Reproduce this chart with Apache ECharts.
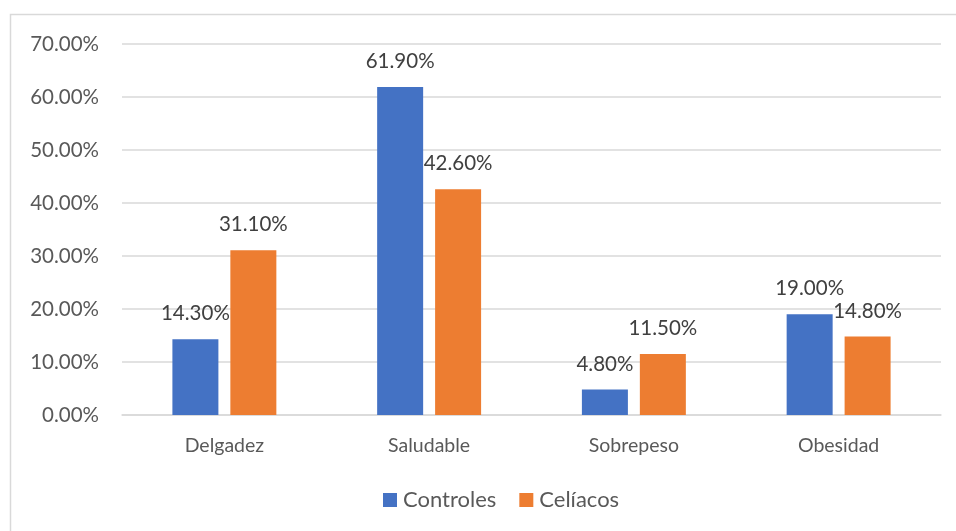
<!DOCTYPE html>
<html>
<head>
<meta charset="utf-8">
<script src="https://cdn.jsdelivr.net/npm/echarts@6/dist/echarts.min.js"></script>
<style>
  html, body { margin: 0; padding: 0; background: #fff; }
  #chart { width: 956px; height: 531px; }
</style>
</head>
<body>
<div id="chart"></div>
<script>
// Categorías de IMC y porcentajes por grupo
const categorias = ['Delgadez', 'Saludable', 'Sobrepeso', 'Obesidad'];
const controles = [14.3, 61.9, 4.8, 19.0];
const celiacos = [31.1, 42.6, 11.5, 14.8];

const FONT = 'Lato, "Open Sans", sans-serif';
const pct = v => v.toFixed(2) + '%';

const chart = echarts.init(document.getElementById('chart'), null, { renderer: 'canvas' });

const labelStyle = {
  show: true,
  position: 'top',
  distance: 15,
  fontFamily: FONT,
  fontSize: 20.5,
  color: '#404040',
  formatter: p => pct(p.value)
};

chart.setOption({
  animation: false,
  backgroundColor: '#ffffff',
  graphic: [{
    type: 'rect',
    shape: { x: 10.5, y: 14.5, width: 1000, height: 600 },
    style: { fill: 'none', stroke: '#d9d9d9', lineWidth: 1.5 },
    silent: true
  }],
  grid: { left: 122, right: 15, top: 44, bottom: 116 },
  legend: {
    top: 484,
    left: 378,
    itemWidth: 14,
    itemHeight: 14,
    itemGap: 23,
    icon: 'rect',
    textStyle: { fontFamily: FONT, fontSize: 22, color: '#595959', padding: [0, 0, 0, 1] },
    data: ['Controles', 'Celíacos']
  },
  xAxis: {
    type: 'category',
    data: categorias,
    axisLine: { lineStyle: { color: '#d9d9d9', width: 1.5 } },
    axisTick: { show: false },
    axisLabel: { fontFamily: FONT, fontSize: 19.5, color: '#595959', margin: 21 }
  },
  yAxis: {
    type: 'value',
    min: 0,
    max: 70,
    interval: 10,
    axisLine: { show: false },
    axisTick: { show: false },
    splitLine: { lineStyle: { color: '#d9d9d9', width: 1.5 } },
    axisLabel: { fontFamily: FONT, fontSize: 20.5, color: '#595959', margin: 23, formatter: v => pct(v) }
  },
  series: [
    {
      name: 'Controles',
      type: 'bar',
      data: controles,
      barWidth: 46,
      barGap: '26%',
      itemStyle: { color: '#4472c4' },
      label: labelStyle
    },
    {
      name: 'Celíacos',
      type: 'bar',
      data: celiacos,
      barWidth: 46,
      itemStyle: { color: '#ed7d31' },
      label: labelStyle
    }
  ]
});
</script>
</body>
</html>
